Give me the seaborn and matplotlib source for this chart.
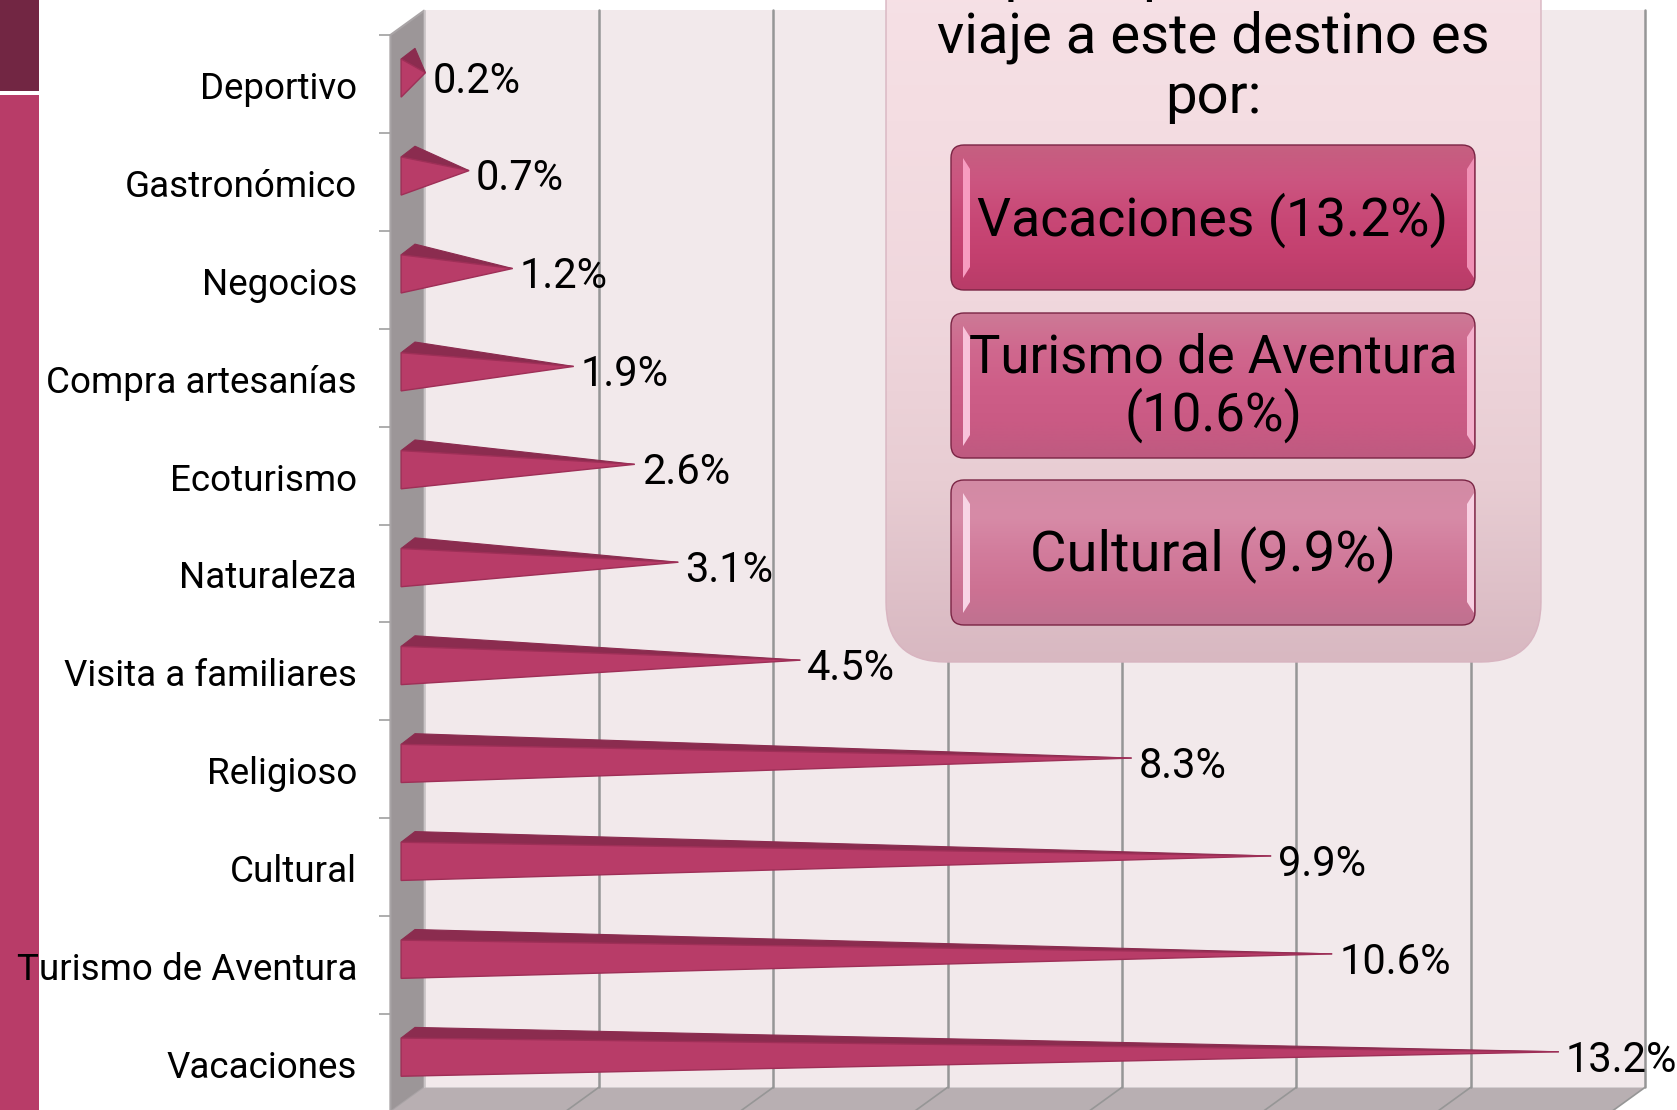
import numpy as np
import pandas as pd
import matplotlib
matplotlib.use("Agg")
import matplotlib.pyplot as plt
from matplotlib.colors import LinearSegmentedColormap
from matplotlib.patches import FancyBboxPatch, Polygon
from matplotlib.transforms import ScaledTranslation
import seaborn as sns

categorias = ["Deportivo", "Gastronómico", "Negocios", "Compra artesanías", "Ecoturismo",
              "Naturaleza", "Visita a familiares", "Religioso", "Cultural",
              "Turismo de Aventura", "Vacaciones"]
valores = [0.2, 0.7, 1.2, 1.9, 2.6, 3.1, 4.5, 8.3, 9.9, 10.6, 13.2]
ticks_x = [0, 2, 4, 6, 8, 10, 12, 14]
titulo_panel = ["El principal motivo de", "viaje a este destino es", "por:"]
botones = ["Vacaciones (13.2%)", "Turismo de Aventura\n(10.6%)", "Cultural (9.9%)"]

W, H = 1677, 1110
FUENTE = "Roboto"

sns.set_theme(style="white")
plt.rcParams["font.family"] = [FUENTE, "DejaVu Sans"]

fig = plt.figure(figsize=(W / 100, H / 100), dpi=100, facecolor="white")

# banda lateral, debajo de todo
banda = fig.add_axes([0, 0, 1, 1], zorder=1)
banda.axis("off")
banda.set_xlim(0, W)
banda.set_ylim(H, 0)
banda.add_patch(plt.Rectangle((0, 0), 39, 91, fc="#722643", ec="none"))
banda.add_patch(plt.Rectangle((0, 95), 39, H - 95, fc="#B83C68", ec="none"))

# plano frontal del grafico 3D, en pixeles
x0, x1, y0, y1 = 390.4, 1611, 35, 1112
ax = fig.add_axes([x0 / W, 1 - y1 / H, (x1 - x0) / W, (y1 - y0) / H], zorder=2)
df = pd.DataFrame({"categoria": categorias, "valor": valores})
sns.barplot(data=df, y="categoria", x="valor", width=0.39, ax=ax, color="#B83C68")
ax.set_xlim(0, 14)
ax.set_ylim(10.5, -0.5)
ax.patch.set_visible(False)
for s in ax.spines.values():
    s.set_visible(False)

# profundidad en unidades de datos
px_x = (x1 - x0) / 14
px_y = (y1 - y0) / 11
dx = 34 / px_x
dy = 24.6 / px_y

# paredes
ax.add_patch(Polygon([(dx, -0.5 - dy), (14 + dx, -0.5 - dy), (14 + dx, 10.5 - dy), (dx, 10.5 - dy)],
                     fc="#F2E9EB", ec="none", zorder=0, clip_on=False))
ax.add_patch(Polygon([(0, -0.5), (dx, -0.5 - dy), (dx, 10.5 - dy), (0, 10.5)],
                     fc="#9C9698", ec="#A9A4A6", lw=1.5, zorder=0.5, clip_on=False))
ax.add_patch(Polygon([(0, 10.5), (dx, 10.5 - dy), (14 + dx, 10.5 - dy), (14, 10.5)],
                     fc="#B8AFB2", ec="none", zorder=0.5, clip_on=False))
for t in ticks_x[1:]:
    ax.plot([t + dx, t + dx], [-0.5 - dy, 10.5 - dy], color="#969696", lw=1.8, zorder=0.6, clip_on=False)
    ax.plot([t, t + dx], [10.5, 10.5 - dy], color="#969696", lw=1.2, zorder=0.6, clip_on=False)
ax.plot([dx, dx], [10.5 - dy, -0.5 - dy], color="#C8C3C5", lw=1, zorder=0.6, clip_on=False)

# ejes
ax.set_xlabel("")
ax.set_ylabel("")
ax.set_xticks([])
ax.set_yticks(range(len(categorias)))
ax.set_yticklabels(categorias, fontsize=26.5, color="black")
ax.set_yticks(np.arange(-0.5, 10.6, 1), minor=True)
ax.tick_params(axis="y", which="major", length=0, pad=24, left=False)
ax.tick_params(axis="y", which="minor", length=8, width=1.2, color="#A0A0A0", left=True)
bajar = ScaledTranslation(0, -0.7 / 72, fig.dpi_scale_trans)
for etiqueta in ax.get_yticklabels():
    etiqueta.set_transform(etiqueta.get_transform() + bajar)

# cada barra se vuelve una piramide acostada
cara_x = 10.7 / px_x
fondo_x = 13.9 / px_x
punta_x = 17.6 / px_x
for p in ax.containers[0]:
    p.set_visible(False)
    v = p.get_width()
    arriba = p.get_y() - 0.06
    abajo = arriba + p.get_height()
    punta = (v + punta_x, (arriba + abajo) / 2 - 0.055)
    ax.add_patch(Polygon([(cara_x, arriba), (cara_x + fondo_x, arriba - 0.109), punta],
                         fc="#8B2C4F", ec="#8B2C4F", lw=0.8, zorder=3, clip_on=False))
    ax.add_patch(Polygon([(cara_x, arriba), (cara_x, abajo), punta],
                         fc="#B83C68", ec="#9E2F57", lw=1, zorder=3.1, clip_on=False))
    ax.annotate(f"{v}%", xy=punta, xytext=(5, -6), textcoords="offset points", va="center", ha="left",
                fontsize=30, color="black", zorder=6, annotation_clip=False)

# capa en pixeles: panel y botones
capa = fig.add_axes([0, 0, 1, 1], zorder=3)
capa.patch.set_visible(False)
capa.axis("off")


def caja_degradado(x, y, w, h, radio, colores, borde=None):
    g = np.linspace(0, 1, 256).reshape(-1, 1)
    im = capa.imshow(g, extent=(x, x + w, y + h, y), aspect="auto", zorder=2,
                     cmap=LinearSegmentedColormap.from_list("g", colores))
    caja = FancyBboxPatch((x + radio, y + radio), w - 2 * radio, h - 2 * radio,
                          boxstyle=f"round,pad={radio},rounding_size={radio}",
                          fc="none", ec=borde if borde else "none", lw=1, zorder=2.1)
    capa.add_patch(caja)
    im.set_clip_path(caja)


caja_degradado(886, -60, 655, 722, 60, ["#F7E2E7", "#F4DDE2", "#F0D7DD", "#E8CDD3", "#D8B8C1"], "#D8B4C0")
for linea, y in zip(titulo_panel, [-24, 37, 98]):
    capa.text(1213, y, linea, ha="center", va="center", fontsize=40.5, color="black", zorder=3)

tops = [145, 313, 480]
tamanos = [38.5, 38, 40.5]
tonos = [["#C56080", "#CC5580", "#C84876", "#C4406F", "#B83C68"],
         ["#CC7A96", "#D0688E", "#CE5E88", "#CA5A84", "#BE5A80"],
         ["#D28AA4", "#D78BA7", "#D27C9C", "#CD7293", "#BF7190"]]
brillo_izq = ["#F79CC0", "#F8C2DA", "#F8D5E5"]
brillo_der = ["#F090B5", "#F4B0CC", "#F8D0E2"]
for txt, top, tam, col, bi, bd in zip(botones, tops, tamanos, tonos, brillo_izq, brillo_der):
    caja_degradado(951, top, 524, 145, 13, col, "#7A2444")
    # brillo de los costados
    capa.add_patch(Polygon([(963, top + 13), (970, top + 24), (970, top + 122), (963, top + 133)],
                           fc=bi, ec="none", zorder=2.5))
    capa.add_patch(Polygon([(1474, top + 13), (1467, top + 24), (1467, top + 122), (1474, top + 133)],
                           fc=bd, ec="none", zorder=2.5))
    capa.text(1213, top + 75, txt, ha="center", va="center", fontsize=tam, color="black", zorder=3, linespacing=1.1)

capa.set_xlim(0, W)
capa.set_ylim(H, 0)

fig.savefig("out.png", dpi=100)
